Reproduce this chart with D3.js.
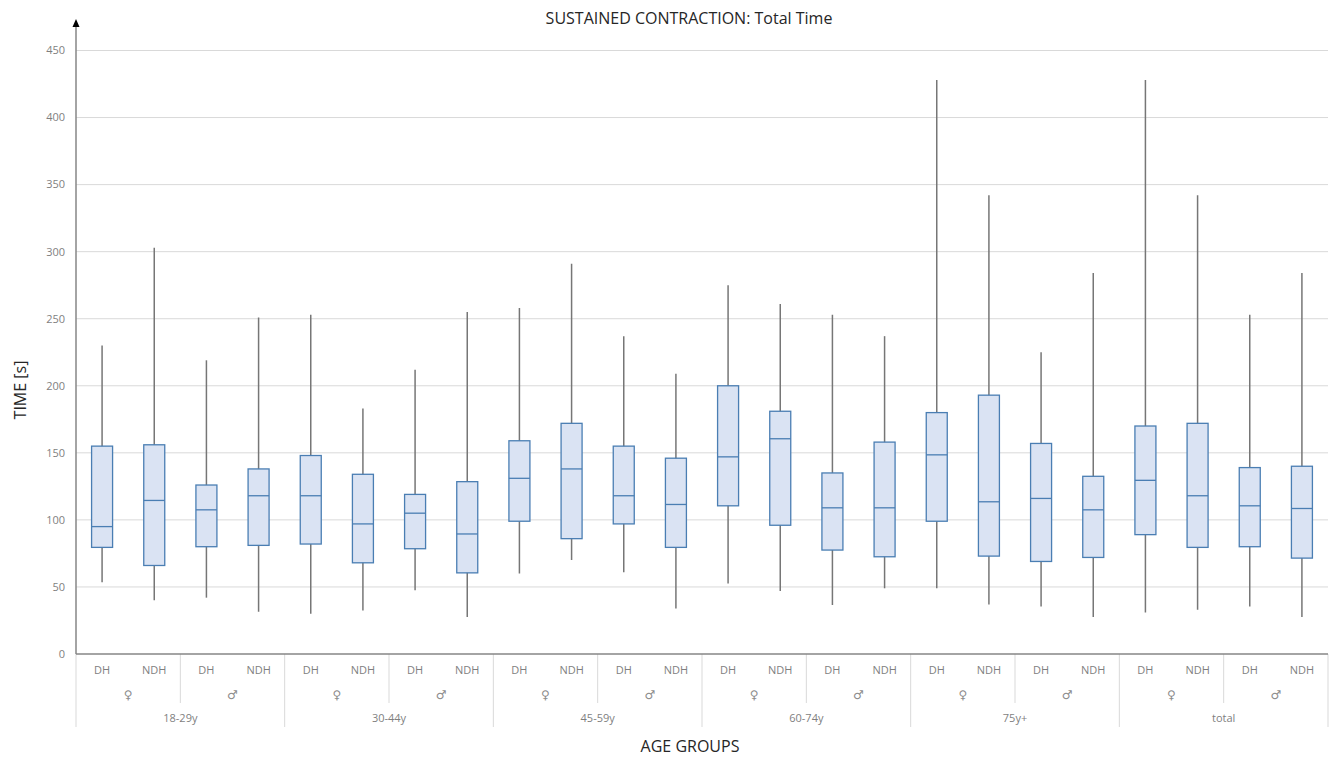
<!DOCTYPE html>
<html>
<head>
<meta charset="utf-8">
<script src="https://cdn.jsdelivr.net/npm/d3@7"></script>
<style>
  body { margin: 0; background: #fff; }
  svg text { font-family: "Open Sans", "Liberation Sans", sans-serif; }
</style>
</head>
<body>
<svg id="chart" width="1343" height="758"></svg>
<script>
// ---- Data ----
const ageGroups = ["18-29y", "30-44y", "45-59y", "60-74y", "75y+", "total"];
const genders = ["\u2640", "\u2642"];
const hands = ["DH", "NDH"];
const yTicks = [0, 50, 100, 150, 200, 250, 300, 350, 400, 450];

// per box, order: age -> gender -> hand
const whiskerHigh = [230, 303, 219, 251,  253, 183, 212, 255,  258, 291, 237, 209,  275, 261, 253, 237,  428, 342, 225, 284,  428, 342, 253, 284];
const q3Values    = [155, 156, 126, 138,  148, 134, 119, 128.5, 159, 172, 155, 146,  200, 181, 135, 158,  180, 193, 157, 132.5, 170, 172, 139, 140];
const medians     = [95, 114.5, 107.5, 118, 118, 97, 105, 89.5, 131, 138, 118, 111.5, 147, 160.5, 109, 109, 148.5, 113.5, 116, 107.5, 129.5, 118, 110.5, 108.5];
const q1Values    = [79.5, 66, 80, 81,  82, 68, 78.5, 60.5,  99, 86, 97, 79.5,  110.5, 96, 77.5, 72.5,  99, 73, 69, 72,  89, 79.5, 80, 71.5];
const whiskerLow  = [53.5, 40, 42, 31.5, 30, 32.5, 47.5, 27.5, 60, 70, 61, 34, 52.5, 47, 36.5, 49, 49, 37, 35.5, 27.5, 31, 33, 35.5, 27.5];

// ---- Build rows ----
const boxes = [];
ageGroups.forEach((a, ai) => genders.forEach((g, gi) => hands.forEach((h, hi) => {
  const i = ai * 4 + gi * 2 + hi;
  boxes.push({ key: a + "|" + g + "|" + h, age: a, gender: g, hand: h,
    hi: whiskerHigh[i], q3: q3Values[i], med: medians[i], q1: q1Values[i], lo: whiskerLow[i] });
})));

const svg = d3.select("#chart");
const margin = { left: 76, right: 1328, top: 50.5, bottom: 654 };

const x = d3.scaleBand().domain(boxes.map(d => d.key)).range([margin.left, margin.right]).paddingInner(0).paddingOuter(0);
const y = d3.scaleLinear().domain([0, 450]).range([margin.bottom, margin.top]);
const boxW = 21;

// gridlines
svg.append("g").selectAll("line").data(yTicks.filter(t => t > 0)).join("line")
  .attr("x1", margin.left).attr("x2", margin.right)
  .attr("y1", d => y(d)).attr("y2", d => y(d))
  .attr("stroke", "#d9d9d9").attr("stroke-width", 1);

// y tick labels
svg.append("g").selectAll("text").data(yTicks).join("text")
  .attr("x", 65).attr("y", d => y(d)).attr("dy", "0.35em")
  .attr("text-anchor", "end").attr("font-size", 11).attr("fill", "#7f7f7f")
  .text(d => d);

// category separators below axis
const bw = x.bandwidth();
const sepG = svg.append("g");
ageGroups.forEach((a) => {
  const xg = x(a + "|" + genders[1] + "|DH");
  sepG.append("line").attr("x1", xg).attr("x2", xg).attr("y1", margin.bottom).attr("y2", 703)
    .attr("stroke", "#d9d9d9");
  const xa = x(a + "|" + genders[0] + "|DH");
  sepG.append("line").attr("x1", xa).attr("x2", xa).attr("y1", margin.bottom).attr("y2", 727)
    .attr("stroke", "#d9d9d9");
});
sepG.append("line").attr("x1", margin.right).attr("x2", margin.right).attr("y1", margin.bottom).attr("y2", 727)
  .attr("stroke", "#d9d9d9");

// hand labels
svg.append("g").selectAll("text").data(boxes).join("text")
  .attr("x", d => x(d.key) + bw / 2).attr("y", 670).attr("dy", "0.35em")
  .attr("text-anchor", "middle").attr("font-size", 11).attr("fill", "#7f7f7f")
  .text(d => d.hand);

// gender labels
const genderCells = [];
ageGroups.forEach(a => genders.forEach(g => genderCells.push({ age: a, gender: g })));
svg.append("g").selectAll("text").data(genderCells).join("text")
  .attr("x", d => x(d.age + "|" + d.gender + "|DH") + bw)
  .attr("y", 695).attr("dy", "0.35em")
  .attr("text-anchor", "middle").attr("font-size", 12).attr("fill", "#8c8c8c")
  .style("font-family", "'DejaVu Sans', 'Noto Sans', sans-serif")
  .text(d => d.gender);

// age labels
svg.append("g").selectAll("text").data(ageGroups).join("text")
  .attr("x", d => x(d + "|" + genders[0] + "|DH") + bw * 2)
  .attr("y", 718).attr("dy", "0.35em")
  .attr("text-anchor", "middle").attr("font-size", 11).attr("fill", "#7f7f7f")
  .text(d => d);

// whiskers
const bg = svg.append("g");
bg.selectAll("line.wh").data(boxes).join("line").attr("class", "wh")
  .attr("x1", d => x(d.key) + bw / 2).attr("x2", d => x(d.key) + bw / 2)
  .attr("y1", d => y(d.hi)).attr("y2", d => y(d.lo))
  .attr("stroke", "#767676").attr("stroke-width", 1.5);

// boxes
bg.selectAll("rect").data(boxes).join("rect")
  .attr("x", d => x(d.key) + bw / 2 - boxW / 2).attr("width", boxW)
  .attr("y", d => y(d.q3)).attr("height", d => y(d.q1) - y(d.q3))
  .attr("fill", "#dae3f3").attr("stroke", "#4a7eb3").attr("stroke-width", 1.3);

// medians
bg.selectAll("line.md").data(boxes).join("line").attr("class", "md")
  .attr("x1", d => x(d.key) + bw / 2 - boxW / 2).attr("x2", d => x(d.key) + bw / 2 + boxW / 2)
  .attr("y1", d => y(d.med)).attr("y2", d => y(d.med))
  .attr("stroke", "#4a7eb3").attr("stroke-width", 1.3);

// axes lines
svg.append("line").attr("x1", margin.left).attr("x2", margin.right)
  .attr("y1", margin.bottom).attr("y2", margin.bottom)
  .attr("stroke", "#868686").attr("stroke-width", 1.5);
svg.append("line").attr("x1", margin.left).attr("x2", margin.left)
  .attr("y1", margin.bottom).attr("y2", 26)
  .attr("stroke", "#868686").attr("stroke-width", 1.5);
svg.append("path").attr("d", `M${margin.left - 3.5},27 L${margin.left + 3.5},27 L${margin.left},19 Z`).attr("fill", "#000");

// title & axis titles
svg.append("text").attr("x", 689).attr("y", 18).attr("dy", "0.35em")
  .attr("text-anchor", "middle").attr("font-size", 16).attr("fill", "#262626")
  .text("SUSTAINED CONTRACTION: Total Time");
svg.append("text").attr("transform", "translate(20,390) rotate(-90)").attr("dy", "0.35em")
  .attr("text-anchor", "middle").attr("font-size", 16).attr("fill", "#262626")
  .text("TIME [s]");
svg.append("text").attr("x", 690).attr("y", 746).attr("dy", "0.35em")
  .attr("text-anchor", "middle").attr("font-size", 16).attr("fill", "#262626")
  .text("AGE GROUPS");
</script>
</body>
</html>
